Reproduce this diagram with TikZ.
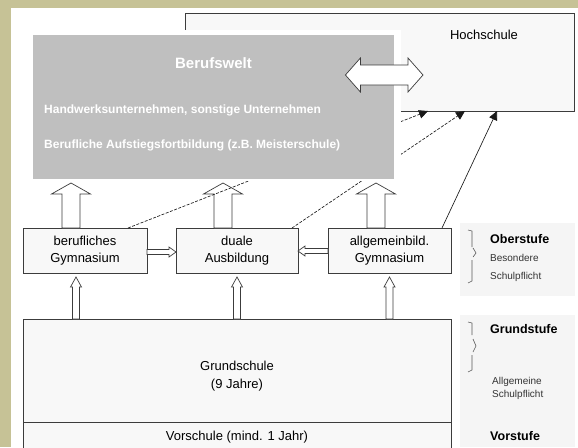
\documentclass[tikz,border=0pt]{standalone}
\usepackage{fontspec}
\setmainfont{Liberation Sans}
\usetikzlibrary{arrows.meta,positioning,calc}
\definecolor{bgkhaki}{RGB}{198,194,150}
\definecolor{weltgray}{RGB}{191,191,191}
\definecolor{lineg}{RGB}{60,60,60}
\definecolor{boxfill}{RGB}{248,248,248}
\definecolor{panelgray}{RGB}{245,245,245}

% block arrow: #1 start, #2 tip, #3 half shaft, #4 half head, #5 head length
\newcommand{\blockarrow}[5]{%
  \coordinate (ba-h) at ($(#2)!#5!(#1)$);
  \draw[blockline] ($(#1)!#3!90:(#2)$) -- ($(ba-h)!#3!-90:(#1)$) -- ($(ba-h)!#4!-90:(#1)$) -- (#2)
    -- ($(ba-h)!#4!90:(#1)$) -- ($(ba-h)!#3!90:(#1)$) -- ($(#1)!#3!-90:(#2)$) -- cycle;}

\begin{document}
\begin{tikzpicture}[x=1pt,y=-1pt,
  box/.style={draw=lineg,fill=boxfill,line width=0.8pt,inner sep=0pt,outer sep=0pt,align=center,font=\fontsize{13}{17}\selectfont},
  blockline/.style={draw=lineg,fill=white,line width=0.7pt},
  hsline/.style={-{Triangle[length=9pt,width=8.5pt]},line width=0.65pt,black!90},
  stufe/.style={anchor=west,inner sep=0pt,font=\bfseries\fontsize{12.5}{15}\selectfont},
  pflicht/.style={anchor=west,inner sep=0pt,text=black!80,font=\fontsize{10}{12}\selectfont},
  welttext/.style={anchor=west,inner sep=0pt,text=white,font=\bfseries\fontsize{12}{14}\selectfont},
  bracket/.style={draw=black!65,line width=0.6pt}]
\useasboundingbox (0,0) rectangle (578,447);
% Background
\fill[bgkhaki] (0,0) rectangle (578,447);
\fill[white] (11,8) rectangle (578,447);
\fill[panelgray] (460,223) rectangle (575,296);
\fill[panelgray] (460,315) rectangle (575,447);
% Hochschule
\node[box,anchor=north west,minimum width=389pt,minimum height=98pt] (hoch) at (185,13) {};
\node[font=\fontsize{13}{16}\selectfont] (hochname) at (484,35) {Hochschule};
% Oberstufe boxes
\node[box,minimum width=124pt,minimum height=45pt] (beruf) at (85,250.5) {berufliches\\Gymnasium};
\node[box,minimum width=122pt,minimum height=45pt,right=29pt of beruf] (dual) {duale\\Ausbildung};
\node[box,minimum width=123pt,minimum height=45pt,right=30pt of dual] (allg) {allgemeinbild.\\Gymnasium};
% Grundschule and Vorschule
\node[box,anchor=north west,minimum width=428pt,minimum height=103pt] (grund) at (23,319) {};
\node[align=center,font=\fontsize{13}{18}\selectfont] (grundname) at (237,376) {Grundschule\\(9 Jahre)};
\node[box,anchor=north,minimum width=428pt,minimum height=30pt] (vor) at (grund.south) {Vorschule (mind. 1 Jahr)};
% Up arrows to Berufswelt
\coordinate (u1a) at ([xshift=-14pt]beruf.north);
\coordinate (u1b) at ($(u1a)+(0,-45)$);
\blockarrow{u1a}{u1b}{9pt}{19.5pt}{11pt}
\coordinate (u2a) at ([xshift=-14pt]dual.north);
\coordinate (u2b) at ($(u2a)+(0,-45)$);
\blockarrow{u2a}{u2b}{9pt}{19.5pt}{11pt}
\coordinate (u3a) at ([xshift=-13.5pt]allg.north);
\coordinate (u3b) at ($(u3a)+(0,-45)$);
\blockarrow{u3a}{u3b}{9pt}{19.5pt}{11pt}
% Thin arrows to Hochschule
\draw[hsline,dash pattern=on 3pt off 1.5pt] ([xshift=-19pt]beruf.north east) -- ([xshift=243pt]hoch.south west);
\draw[hsline,dash pattern=on 3pt off 1.5pt] ([xshift=-6pt]dual.north east) -- ([xshift=280pt]hoch.south west);
\draw[hsline] ([xshift=-9pt]allg.north east) -- ([xshift=312pt]hoch.south west);
% Berufswelt
\fill[white] (28,30) rectangle (401,181);
\node[fill=weltgray,anchor=north west,minimum width=361pt,minimum height=144pt,inner sep=0pt] (welt) at (33,35) {};
\node[text=white,font=\bfseries\fontsize{15}{18}\selectfont] (weltname) at (213.5,63) {Berufswelt};
\node[welttext] (handwerk) at (44,110) {Handwerksunternehmen, sonstige Unternehmen};
\node[welttext] (aufstieg) at (44,145) {Berufliche Aufstiegsfortbildung (z.B. Meisterschule)};
% Double arrow Berufswelt <-> Hochschule
\coordinate (dl) at ($(welt.north east)+(-49,40)$);
\coordinate (dr) at ($(hoch.north west)+(238,62)$);
\draw[blockline] (dl) -- ($(dl)+(15,-17)$) -- ($(dl)+(15,-10)$) -- ($(dr)+(-15,-10)$) -- ($(dr)+(-15,-17)$) -- (dr)
  -- ($(dr)+(-15,17)$) -- ($(dr)+(-15,10)$) -- ($(dl)+(15,10)$) -- ($(dl)+(15,17)$) -- cycle;
% Small arrows between the boxes
\coordinate (h1a) at ($(beruf.east)+(0,1.5)$);
\coordinate (h1b) at ($(dual.west)+(0,1.5)$);
\blockarrow{h1a}{h1b}{2.5pt}{5pt}{7pt}
\coordinate (h2a) at ($(allg.west)+(0,0.5)$);
\coordinate (h2b) at ($(dual.east)+(0,0.5)$);
\blockarrow{h2a}{h2b}{2.5pt}{5pt}{7pt}
% Small arrows from Grundschule
\coordinate (v1b) at ($(beruf.south)+(-9,4)$);
\coordinate (v1a) at (v1b |- grund.north);
\blockarrow{v1a}{v1b}{3.5pt}{5.5pt}{10pt}
\coordinate (v2b) at ($(dual.south)+(0,4)$);
\coordinate (v2a) at (v2b |- grund.north);
\blockarrow{v2a}{v2b}{3.5pt}{5.5pt}{10pt}
\coordinate (v3b) at ($(allg.south)+(0,4)$);
\coordinate (v3a) at (v3b |- grund.north);
\blockarrow{v3a}{v3b}{3.5pt}{5.5pt}{10pt}
% Stufen on the right
\draw[bracket] (468,230) -- (472,231) -- (472,247);
\draw[bracket] (473,248) -- (476,253) -- (473,257);
\draw[bracket] (472,260) -- (472,281) -- (468,283);
\draw[bracket] (468,322) -- (472,323) -- (472,335);
\draw[bracket] (473,339) -- (476,346) -- (473,352);
\draw[bracket] (472,355) -- (472,370) -- (468,372);
\node[stufe] (ober) at (490,239) {Oberstufe};
\node[pflicht] (besondere) at (490,258) {Besondere};
\node[pflicht] (schulpfl1) at (490,277) {Schulpflicht};
\node[stufe] (grundst) at (490,329) {Grundstufe};
\node[pflicht] (allgemein) at (492,382) {Allgemeine};
\node[pflicht] (schulpfl2) at (492,395) {Schulpflicht};
\node[stufe] (vorst) at (490,436) {Vorstufe};
\end{tikzpicture}
\end{document}
